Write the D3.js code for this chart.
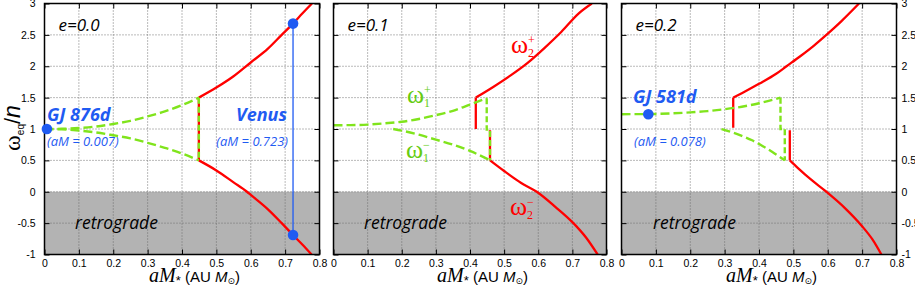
<!DOCTYPE html>
<html><head><meta charset="utf-8">
<script src="https://cdn.jsdelivr.net/npm/d3@7"></script>
<style>
html,body{margin:0;padding:0;background:#fff;}
svg{display:block;}
.tick text{font-family:"Liberation Sans",Arial,sans-serif;font-size:10.5px;fill:#000;}
.tick line{stroke:#000;stroke-width:1;}
</style></head>
<body><svg id="c" width="915" height="288"></svg>
<script>
// ---------- data ----------
const xTicks = [0, 0.1, 0.2, 0.3, 0.4, 0.5, 0.6, 0.7, 0.8];
const yTicks = [-1, -0.5, 0, 0.5, 1, 1.5, 2, 2.5, 3];
const panelTitles = ["e=0.0", "e=0.1", "e=0.2"];

// e = 0.0
const e0_w2plus  = [[0.449,1.5],[0.5,1.66],[0.55,1.84],[0.6,2.06],[0.65,2.28],[0.69,2.5],[0.723,2.68],[0.75,2.84],[0.778,3.0]];
const e0_w2minus = [[0.449,0.5],[0.5,0.34],[0.55,0.15],[0.589,0.0],[0.6,-0.05],[0.65,-0.28],[0.69,-0.5],[0.723,-0.69],[0.75,-0.84],[0.777,-1.0]];
const e0_w1plus  = [[0,1.0],[0.05,1.003],[0.1,1.015],[0.15,1.04],[0.2,1.08],[0.25,1.13],[0.3,1.2],[0.35,1.28],[0.4,1.38],[0.449,1.5]];
const e0_w1minus = [[0,1.0],[0.05,0.995],[0.1,0.975],[0.15,0.945],[0.2,0.9],[0.25,0.85],[0.3,0.78],[0.35,0.7],[0.4,0.61],[0.449,0.5]];
const e0_redJumps   = [[[0.449,1.5],[0.449,0.5]]];
const e0_greenJumps = [[[0.449,1.5],[0.449,0.5]]];

// e = 0.1
const e1_w2plus  = [[0.417,1.5],[0.468,1.67],[0.518,1.85],[0.568,2.05],[0.618,2.29],[0.668,2.55],[0.718,2.84],[0.757,3.0]];
const e1_w2minus = [[0.4586,0.5],[0.5,0.33],[0.55,0.14],[0.5955,0.0],[0.65,-0.24],[0.703,-0.5],[0.74,-0.73],[0.774,-1.0]];
const e1_w1plus  = [[0,1.06],[0.05,1.062],[0.1,1.07],[0.15,1.09],[0.2,1.115],[0.25,1.16],[0.3,1.22],[0.35,1.29],[0.4,1.39],[0.449,1.49]];
const e1_w1minus = [[0.175,1.0],[0.2,0.975],[0.25,0.91],[0.3,0.83],[0.35,0.75],[0.4,0.65],[0.4586,0.5]];
const e1_redJumps   = [[[0.417,1.0],[0.417,1.5]], [[0.4586,0.98],[0.4586,0.5]]];
const e1_greenJumps = [[[0.449,1.49],[0.449,0.99],[0.4586,0.99],[0.4586,0.5]]];

// e = 0.2
const e2_w2plus  = [[0.325,1.5],[0.35,1.57],[0.4,1.72],[0.45,1.88],[0.48,2.0],[0.52,2.16],[0.56,2.33],[0.596,2.5],[0.64,2.72],[0.691,3.0]];
const e2_w2minus = [[0.4896,0.5],[0.515,0.37],[0.55,0.2],[0.596,0.0],[0.65,-0.26],[0.7,-0.55],[0.73,-0.76],[0.756,-1.0]];
const e2_w1plus  = [[0,1.236],[0.05,1.237],[0.1,1.24],[0.15,1.25],[0.2,1.265],[0.25,1.285],[0.3,1.315],[0.35,1.355],[0.4,1.41],[0.4625,1.5]];
const e2_w1minus = [[0.291,1.0],[0.32,0.95],[0.35,0.89],[0.38,0.82],[0.41,0.73],[0.44,0.63],[0.475,0.5]];
const e2_redJumps   = [[[0.325,1.02],[0.325,1.5]], [[0.4896,0.98],[0.4896,0.5]]];
const e2_greenJumps = [[[0.4625,1.5],[0.4625,1.0],[0.475,1.0],[0.475,0.5]]];

// planets
const gj876d = {name:"GJ 876d", aM:0.007, w:1.0, note:"(aM = 0.007)"};
const venus  = {name:"Venus", aM:0.723, wUp:2.68, wDown:-0.69, note:"(aM = 0.723)"};
const gj581d = {name:"GJ 581d", aM:0.078, w:1.236, note:"(aM = 0.078)"};

// ---------- layout ----------
const RED = "#ff0000", GREEN = "#80e41c", BLUE = "#1f5bf2", GRAY = "#b3b3b3";
const panelX = [[44.5,319.5],[333.5,606.5],[621.5,896.5]];
const yPix = [254.5, 3.5];

const svg = d3.select("#c");

const panelData = [
  {w2p:e0_w2plus, w2m:e0_w2minus, w1p:e0_w1plus, w1m:e0_w1minus, rj:e0_redJumps, gj:e0_greenJumps},
  {w2p:e1_w2plus, w2m:e1_w2minus, w1p:e1_w1plus, w1m:e1_w1minus, rj:e1_redJumps, gj:e1_greenJumps},
  {w2p:e2_w2plus, w2m:e2_w2minus, w1p:e2_w1plus, w1m:e2_w1minus, rj:e2_redJumps, gj:e2_greenJumps}
];

panelData.forEach((pd, i) => {
  const x = d3.scaleLinear().domain([0,0.8]).range(panelX[i]);
  const y = d3.scaleLinear().domain([-1,3]).range(yPix);
  const g = svg.append("g");
  const clipId = "clip"+i;
  svg.append("clipPath").attr("id", clipId).append("rect")
    .attr("x", x(0)).attr("y", y(3)).attr("width", x(0.8)-x(0)).attr("height", y(-1)-y(3));

  // retrograde fill
  g.append("rect").attr("x", x(0)).attr("y", y(0)).attr("width", x(0.8)-x(0)).attr("height", y(-1)-y(0))
    .attr("fill", GRAY);

  // grid
  g.selectAll(".gx").data(xTicks.slice(1,-1)).join("line")
    .attr("x1", d=>x(d)).attr("x2", d=>x(d)).attr("y1", y(-1)).attr("y2", y(3))
    .attr("stroke", "#666").attr("stroke-width", 0.9).attr("stroke-dasharray", "1,2");
  g.selectAll(".gy").data(yTicks.slice(1,-1)).join("line")
    .attr("y1", d=>y(d)).attr("y2", d=>y(d)).attr("x1", x(0)).attr("x2", x(0.8))
    .attr("stroke", "#666").attr("stroke-width", 0.9).attr("stroke-dasharray", "1,2");

  const curve = d3.line().x(d=>x(d[0])).y(d=>y(d[1])).curve(d3.curveMonotoneX);
  const lin = d3.line().x(d=>x(d[0])).y(d=>y(d[1]));
  const cg = g.append("g").attr("clip-path", `url(#${clipId})`);

  // red
  [pd.w2p, pd.w2m].forEach(s => cg.append("path").attr("d", curve(s)).attr("fill","none")
     .attr("stroke", RED).attr("stroke-width", 2.3));
  pd.rj.forEach(s => cg.append("path").attr("d", lin(s)).attr("fill","none")
     .attr("stroke", RED).attr("stroke-width", 2.3));
  // green dashed
  [pd.w1p, pd.w1m].forEach(s => cg.append("path").attr("d", curve(s)).attr("fill","none")
     .attr("stroke", GREEN).attr("stroke-width", 2.4).attr("stroke-dasharray","9,4"));
  pd.gj.forEach(s => cg.append("path").attr("d", lin(s)).attr("fill","none")
     .attr("stroke", GREEN).attr("stroke-width", 2.4).attr("stroke-dasharray","6,3"));

  // axes
  const fmt = d => String(d);
  const ax = g.append("g");
  ax.append("g").attr("transform", `translate(0,${y(-1)})`)
    .call(d3.axisBottom(x).tickValues(xTicks).tickSize(-5).tickPadding(5).tickFormat(fmt));
  ax.append("g").attr("transform", `translate(0,${y(3)})`)
    .call(d3.axisTop(x).tickValues(xTicks).tickSize(-5).tickFormat(""));
  ax.append("g").attr("transform", `translate(${x(0)},0)`)
    .call(d3.axisLeft(y).tickValues(yTicks).tickSize(-5).tickPadding(9).tickFormat(i===0?fmt:""));
  ax.append("g").attr("transform", `translate(${x(0.8)},0)`)
    .call(d3.axisRight(y).tickValues(yTicks).tickSize(-5).tickPadding(5).tickFormat(i===2?fmt:""));
  ax.selectAll(".domain").remove();

  // frame
  g.append("rect").attr("x", x(0)).attr("y", y(3)).attr("width", x(0.8)-x(0)).attr("height", y(-1)-y(3))
    .attr("fill","none").attr("stroke","#000").attr("stroke-width",1.5);

  // titles
  g.append("text").attr("x", x(0)+14).attr("y", 31).text(panelTitles[i])
    .attr("font-family","'Open Sans',sans-serif").attr("font-style","italic").attr("font-size",17);
  const rx = [75, 364, 653][i];
  g.append("text").attr("x", rx).attr("y", 229).text("retrograde")
    .attr("font-family","'Open Sans',sans-serif").attr("font-style","italic").attr("font-size",17.5);

  // x label
  const cx = (x(0)+x(0.8))/2 - 33;
  const t = g.append("text").attr("x", cx).attr("y", 282).attr("fill","#000");
  t.append("tspan").text("aM").attr("font-family","'Liberation Serif',serif").attr("font-style","italic").attr("font-size",20);
  t.append("tspan").text("*").attr("font-family","'Liberation Sans',sans-serif").attr("font-size",13).attr("dy",3);
  t.append("tspan").text(" (AU ").attr("font-family","'Liberation Sans',sans-serif").attr("font-size",15).attr("dy",-3);
  t.append("tspan").text("M").attr("font-family","'Liberation Sans',sans-serif").attr("font-style","italic").attr("font-size",15);
  t.append("tspan").text("⊙").attr("font-family","'DejaVu Sans',sans-serif").attr("font-size",9).attr("dy",2);
  t.append("tspan").text(")").attr("font-family","'Liberation Sans',sans-serif").attr("font-size",15).attr("dy",-2);

  // planets
  const blueText = (tx, ty, txt, size, bold, anchor) => g.append("text").attr("x", tx).attr("y", ty).text(txt)
     .attr("fill", BLUE).attr("font-family","'Open Sans',sans-serif").attr("font-style","italic")
     .attr("font-weight", bold?700:400).attr("font-size", size).attr("text-anchor", anchor||"start");
  if (i === 0) {
    g.append("line").attr("x1", x(venus.aM)).attr("x2", x(venus.aM)).attr("y1", y(venus.wUp)).attr("y2", y(venus.wDown))
      .attr("stroke", BLUE).attr("stroke-width", 1.3);
    [venus.wUp, venus.wDown].forEach(w => g.append("circle").attr("cx", x(venus.aM)).attr("cy", y(w)).attr("r", 5.3).attr("fill", BLUE));
    g.append("circle").attr("cx", x(gj876d.aM)).attr("cy", y(gj876d.w)).attr("r", 5.3).attr("fill", BLUE);
    blueText(47, 121, gj876d.name, 18, true);
    blueText(47, 146, gj876d.note, 13, false);
    blueText(287, 121, venus.name, 18, true, "end");
    blueText(288, 146, venus.note, 13, false, "end");
  }
  if (i === 2) {
    g.append("circle").attr("cx", x(gj581d.aM)).attr("cy", y(gj581d.w)).attr("r", 5.3).attr("fill", BLUE);
    blueText(633, 103, gj581d.name, 18, true);
    blueText(634, 146, gj581d.note, 13, false);
  }
  if (i === 1) {
    const omega = (ox, oy, sub, sign, col) => {
      g.append("text").attr("x", ox).attr("y", oy).text("ω").attr("fill", col)
        .attr("font-family","'Liberation Serif',serif").attr("font-size", 26);
      g.append("text").attr("x", ox+17).attr("y", oy-9).text(sign).attr("fill", col)
        .attr("font-family","'Liberation Serif',serif").attr("font-size", 12);
      g.append("text").attr("x", ox+17).attr("y", oy+4).text(sub).attr("fill", col)
        .attr("font-family","'Liberation Serif',serif").attr("font-size", 12);
    };
    omega(511, 53, "2", "+", RED);
    omega(407, 103, "1", "+", "#66cc11");
    omega(406, 158, "1", "−", "#66cc11");
    omega(510, 215, "2", "−", RED);
  }
});

// y label
const yl = svg.append("text").attr("transform","translate(20,128) rotate(-90)").attr("text-anchor","middle");
yl.append("tspan").text("ω").attr("font-family","'Liberation Serif',serif").attr("font-size",24);
yl.append("tspan").text("eq").attr("font-family","'Liberation Sans',sans-serif").attr("font-size",10).attr("dy",4);
yl.append("tspan").text("/").attr("font-family","'Liberation Sans',sans-serif").attr("font-size",22).attr("dy",-4);
yl.append("tspan").text("n").attr("font-family","'Liberation Sans',sans-serif").attr("font-style","italic").attr("font-size",23);
</script></body></html>
